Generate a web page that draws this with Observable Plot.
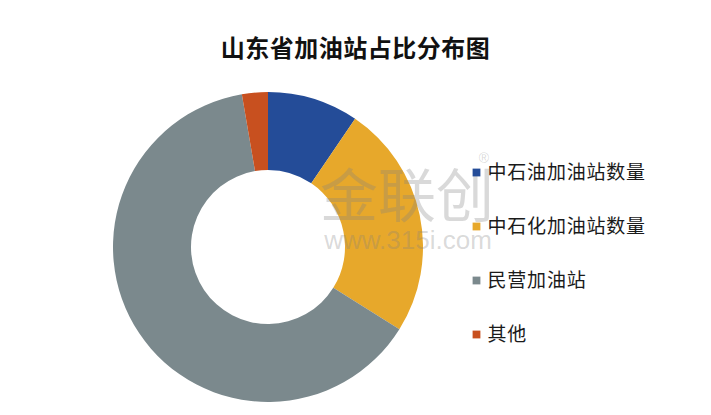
<!DOCTYPE html>
<html><head><meta charset="utf-8">
<script src="https://cdn.jsdelivr.net/npm/d3@7"></script>
<script src="https://cdn.jsdelivr.net/npm/@observablehq/plot@0.6"></script>
<style>
body{margin:0;background:#fff;}
#title{box-sizing:border-box;width:711px;height:80px;padding-top:34px;text-align:center;
  font-family:"Noto Sans CJK SC",sans-serif;font-weight:bold;font-size:24px;line-height:26px;letter-spacing:0.5px;color:#111;}
#chart text.lg{letter-spacing:0.8px;}
</style></head><body>
<div id="title"></div>
<div id="chart"></div>
<script>
const titleText = "山东省加油站占比分布图";
const categories = ["中石油加油站数量", "中石化加油站数量", "民营加油站", "其他"];
const shares = [9.5, 24.4, 63.4, 2.7];
const colors = ["#244C98", "#E7A82B", "#7B898D", "#C8501F"];
const watermarkName = "金联创";
const watermarkUrl = "www.315i.com";

document.getElementById("title").textContent = titleText;

const W = 711, H = 335;
const center = [268, 167], rOuter = 155, rInner = 77;
const legendX = 476, legendTextX = 487, legendTop = 91, legendBottom = 254;

const colorScale = Plot.scale({color: {domain: categories, range: colors}});
const rows = categories.map((c, i) => ({category: c, share: shares[i]}));

function donut(index, scales, values, dimensions, context) {
  const arcs = d3.pie().sort(null).value(d => d.share)(rows);
  const arc = d3.arc().innerRadius(rInner).outerRadius(rOuter);
  const g = d3.create("svg:g");
  g.append("g").attr("transform", `translate(${center[0]},${center[1]})`)
    .selectAll("path").data(arcs).join("path")
    .attr("d", arc)
    .attr("fill", d => colorScale.apply(d.data.category));
  const wm = g.append("g").attr("fill", "#808080").attr("fill-opacity", 0.3);
  wm.append("text").attr("x", 407).attr("y", 112).attr("text-anchor", "middle")
    .attr("dominant-baseline", "central")
    .attr("font-family", "Noto Sans CJK SC").attr("font-size", 58).text(watermarkName);
  wm.append("text").attr("x", 408).attr("y", 160).attr("text-anchor", "middle")
    .attr("dominant-baseline", "central")
    .attr("font-family", "Liberation Sans").attr("font-size", 26).text(watermarkUrl);
  wm.append("text").attr("x", 484).attr("y", 78).attr("text-anchor", "middle")
    .attr("dominant-baseline", "central")
    .attr("font-family", "Liberation Sans").attr("font-size", 14).text("®");
  return g.node();
}

const chart = Plot.plot({
  width: W, height: H,
  margin: 0,
  style: {background: "#fff", overflow: "visible"},
  x: {type: "identity", axis: null},
  y: {type: "point", domain: categories, range: [legendTop, legendBottom], padding: 0, axis: null},
  color: {domain: categories, range: colors},
  marks: [
    donut,
    Plot.dot(rows, {x: () => legendX, y: "category", fill: "category", symbol: "square", r: 4.4, stroke: null}),
    Plot.text(rows, {x: () => legendTextX, y: "category", text: "category", textAnchor: "start",
      fontSize: 19, fill: "#1a1a1a", fontFamily: "Noto Sans CJK SC"})
  ]
});
document.getElementById("chart").appendChild(chart);
chart.querySelectorAll("text").forEach(t => { if (categories.includes(t.textContent)) t.setAttribute("class", "lg"); });
</script>
</body></html>
